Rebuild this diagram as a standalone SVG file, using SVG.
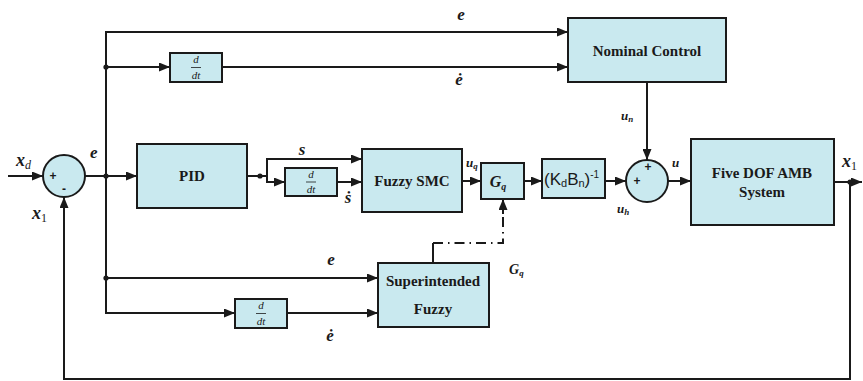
<svg xmlns="http://www.w3.org/2000/svg" width="863" height="381" viewBox="0 0 863 381">
<style>
.blk{fill:#c9e9ef;stroke:#1a1a1a;stroke-width:2}
.ln{fill:none;stroke:#1a1a1a;stroke-width:2}
.arr{marker-end:url(#ah)}
.dot{fill:#1a1a1a}
.bt{font-family:"Liberation Serif","DejaVu Serif",serif;font-weight:bold;font-size:15px;fill:#1a1a1a;text-anchor:middle}
.m{font-family:"Liberation Serif","DejaVu Serif",serif;font-weight:bold;font-style:italic;fill:#1a1a1a}
.fr{font-family:"Liberation Serif","DejaVu Serif",serif;font-style:italic;font-size:11px;fill:#1a1a1a;text-anchor:middle}
.sg{font-family:"Liberation Sans","DejaVu Sans",sans-serif;font-weight:bold;font-size:12px;fill:#1a1a1a;text-anchor:middle}
</style>
<defs>
<marker id="ah" markerUnits="userSpaceOnUse" markerWidth="11" markerHeight="9" refX="11" refY="4.5" orient="auto">
<path d="M0,0 L11,4.5 L0,9 z" fill="#1a1a1a"/>
</marker>
</defs>

<g id="connectors">
<path class="ln arr" d="M8,176 H43"/>
<path class="ln arr" d="M85,176 H137"/>
<path class="ln arr" d="M106,176 V32 H568"/>
<path class="ln arr" d="M106,176 V313 H235"/>
<path class="ln arr" d="M106,67 H170"/>
<path class="ln arr" d="M222,67 H568"/>
<path class="ln arr" d="M106,278 H378"/>
<path class="ln arr" d="M287,313 H378"/>
<path class="ln arr" d="M247,176 H267 V159 H362"/>
<path class="ln arr" d="M267,176 V182 H285"/>
<path class="ln arr" d="M337,182 H362"/>
<path class="ln arr" d="M462,181 H481"/>
<path class="ln arr" d="M524,181 H542"/>
<path class="ln arr" d="M605,181 H626"/>
<path class="ln arr" d="M647,82 V160"/>
<path class="ln arr" d="M668,181 H691"/>
<path class="ln arr" d="M834,182 H862"/>
<path class="ln arr" d="M850,182 V379 H64 V197"/>
<path class="ln" d="M433,263 V243"/>
<path class="ln" d="M433,243 H503 V214" stroke-dasharray="10,5,1.5,5"/>
<path class="ln arr" d="M503,214 V199"/>
<circle class="dot" cx="106" cy="67" r="2.6"/>
<circle class="dot" cx="106" cy="176" r="2.6"/>
<circle class="dot" cx="106" cy="278" r="2.6"/>
<circle class="dot" cx="260" cy="176" r="2.6"/>
<circle class="dot" cx="850" cy="182" r="2.6"/>
</g>

<g id="sum1">
<circle class="blk" cx="64" cy="176" r="21"/>
<text class="sg" x="53" y="180">+</text>
<text class="sg" x="64" y="193">-</text>
</g>

<g id="pid">
<rect class="blk" x="137" y="144" width="110" height="64"/>
<text class="bt" x="192" y="181">PID</text>
</g>

<g id="ddt-top">
<rect class="blk" x="170" y="53" width="52" height="29"/>
<text class="fr" x="196" y="63">d</text>
<line x1="191" y1="67.5" x2="201" y2="67.5" stroke="#1a1a1a" stroke-width="0.8"/>
<text class="fr" x="196" y="79">dt</text>
</g>

<g id="ddt-s">
<rect class="blk" x="285" y="168" width="52" height="28"/>
<text class="fr" x="311" y="178">d</text>
<line x1="306" y1="182" x2="316" y2="182" stroke="#1a1a1a" stroke-width="0.8"/>
<text class="fr" x="311" y="193">dt</text>
</g>

<g id="ddt-bottom">
<rect class="blk" x="235" y="299" width="52" height="29"/>
<text class="fr" x="261" y="309">d</text>
<line x1="256" y1="313.5" x2="266" y2="313.5" stroke="#1a1a1a" stroke-width="0.8"/>
<text class="fr" x="261" y="325">dt</text>
</g>

<g id="nominal">
<rect class="blk" x="568" y="18" width="158" height="64"/>
<text class="bt" x="647" y="56">Nominal Control</text>
</g>

<g id="fuzzy-smc">
<rect class="blk" x="362" y="149" width="100" height="63"/>
<text class="bt" x="412" y="186">Fuzzy SMC</text>
</g>

<g id="gq">
<rect class="blk" x="481" y="163" width="43" height="36"/>
<text class="m" x="498" y="187" font-size="16" text-anchor="middle">G<tspan font-size="10" dy="3">q</tspan></text>
</g>

<g id="kdbn">
<rect class="blk" x="542" y="159" width="63" height="39"/>
<text x="544" y="185" font-family="'Liberation Sans','DejaVu Sans',sans-serif" font-size="17" fill="#1a1a1a">(K<tspan font-size="11" dy="2">d</tspan><tspan dy="-2">B</tspan><tspan font-size="11" dy="2">n</tspan><tspan dy="-2">)</tspan><tspan font-size="10" dy="-7">-1</tspan></text>
</g>

<g id="sum2">
<circle class="blk" cx="647" cy="181" r="21"/>
<text class="sg" x="648" y="171">+</text>
<text class="sg" x="637" y="185">+</text>
</g>

<g id="amb">
<rect class="blk" x="691" y="139" width="143" height="86"/>
<text class="bt" x="762" y="178">Five DOF AMB</text>
<text class="bt" x="762" y="197">System</text>
</g>

<g id="superintended">
<rect class="blk" x="378" y="263" width="111" height="64"/>
<text class="bt" x="433" y="286">Superintended</text>
<text class="bt" x="433" y="314">Fuzzy</text>
</g>

<g id="labels">
<text class="m" x="16" y="166" font-size="18">x<tspan font-weight="normal" font-size="12" dy="3">d</tspan></text>
<text class="m" x="90" y="158" font-size="17">e</text>
<text class="m" x="32" y="219" font-size="18">x<tspan font-weight="normal" font-style="normal" font-size="12" dy="3">1</tspan></text>
<text class="m" x="842" y="167" font-size="18">x<tspan font-weight="normal" font-style="normal" font-size="12" dy="3">1</tspan></text>
<text class="m" x="461" y="20" font-size="17" text-anchor="middle">e</text>
<text class="m" x="459" y="85" font-size="17" text-anchor="middle">ė</text>
<text class="m" x="331" y="265" font-size="17" text-anchor="middle">e</text>
<text class="m" x="330" y="341" font-size="17" text-anchor="middle">ė</text>
<text class="m" x="302" y="155" font-size="17" text-anchor="middle">s</text>
<text class="m" x="348" y="203" font-size="17" text-anchor="middle">ṡ</text>
<text class="m" x="466" y="167" font-size="13">u<tspan font-size="9" dy="2">q</tspan></text>
<text class="m" x="621" y="120" font-size="13">u<tspan font-size="9" dy="2">n</tspan></text>
<text class="m" x="617" y="213" font-size="13">u<tspan font-size="9" dy="2">h</tspan></text>
<text class="m" x="672" y="167" font-size="13">u</text>
<text class="m" x="509" y="274" font-size="14">G<tspan font-size="9" dy="2">q</tspan></text>
</g>
</svg>
